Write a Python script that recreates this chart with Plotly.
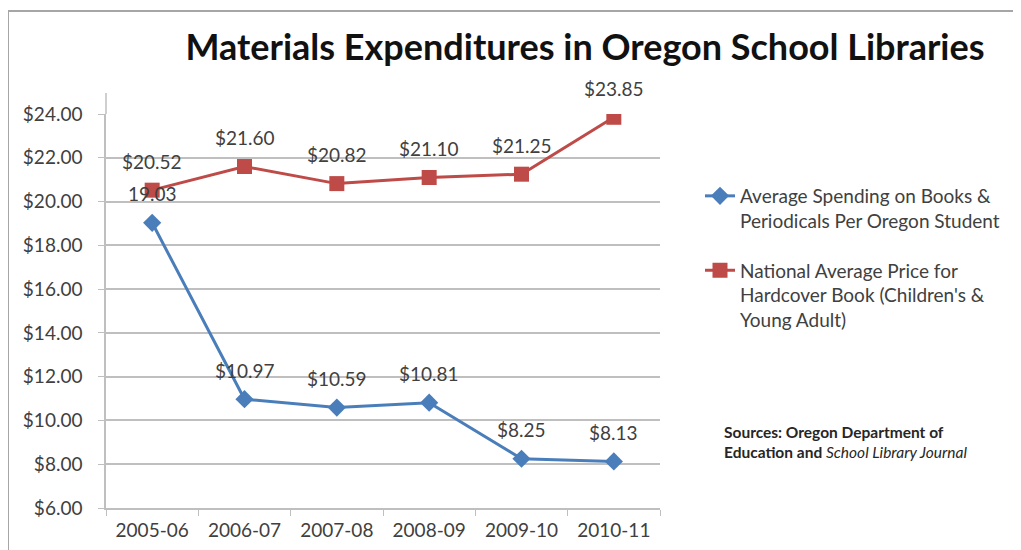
import plotly.graph_objects as go

categories = ["2005-06", "2006-07", "2007-08", "2008-09", "2009-10", "2010-11"]
spending = [19.03, 10.97, 10.59, 10.81, 8.25, 8.13]
spending_labels = ["19.03", "$10.97", "$10.59", "$10.81", "$8.25", "$8.13"]
price = [20.52, 21.60, 20.82, 21.10, 21.25, 23.85]
price_labels = ["$20.52", "$21.60", "$20.82", "$21.10", "$21.25", "$23.85"]

blue = "#4A7EBB"
red = "#BE4B48"
grid = "#BFBFBF"
txt = "#404040"
font = "Lato"
OFF = 8  # page body margin offset

fig = go.Figure()
fig.add_trace(go.Scatter(
    x=categories, y=spending, mode="lines+markers",
    name="Average Spending on Books &<br>Periodicals Per Oregon Student",
    line=dict(color=blue, width=3),
    marker=dict(symbol="diamond", size=14, color=blue),
    legendgroup="a",
))
fig.add_trace(go.Scatter(
    x=categories, y=price, mode="lines+markers",
    name="National Average Price for<br>Hardcover Book (Children's &<br>Young Adult)",
    line=dict(color=red, width=3),
    marker=dict(symbol="square", size=15, color=red),
    legendgroup="b",
))

for cats, vals, labs in [(categories, spending, spending_labels), (categories, price, price_labels)]:
    for c, v, l in zip(cats, vals, labs):
        fig.add_annotation(x=c, y=v, text=l, showarrow=False, yshift=29,
                           font=dict(family=font, size=19, color=txt))

fig.add_annotation(
    xref="paper", yref="paper", x=(722 - 106) / 554, y=(508 - 442) / 394,
    xanchor="left", yanchor="middle", align="left", showarrow=False,
    text="<b>Sources: Oregon Department of<br>Education and </b><i>School Library Journal</i>",
    font=dict(family=font, size=15.5, color="#262626"),
)

fig.add_shape(type="rect", xref="paper", yref="paper",
              x0=(8 - 106) / 554, x1=(1040 - 106) / 554,
              y0=(508 - 570) / 394, y1=(508 - 11) / 394,
              line=dict(color="#A6A6A6", width=2), layer="below")
fig.add_shape(type="line", xref="paper", yref="paper",
              x0=0, x1=0, y0=1, y1=(508 - 93) / 394,
              line=dict(color=grid, width=1.5))

fig.update_layout(
    width=1021, height=550,
    margin=dict(l=106 - OFF, r=1021 - (660 - OFF), t=114 - OFF, b=550 - (508 - OFF)),
    paper_bgcolor="white", plot_bgcolor="white",
    title=dict(text="<b>Materials Expenditures in Oregon School Libraries</b>",
               xref="container", x=(585 - OFF) / 1021, xanchor="center",
               yref="container", y=1 - (47 - OFF) / 550, yanchor="middle",
               font=dict(family=font, size=36, color="#111111")),
    legend=dict(x=(700 - 106) / 554, y=(508 - 177) / 394, xanchor="left", yanchor="top",
                font=dict(family=font, size=19, color=txt),
                tracegroupgap=22, valign="top", bgcolor="rgba(0,0,0,0)"),
    showlegend=True,
)
fig.update_xaxes(type="category", range=[-0.5, 5.5], tickson="boundaries", ticks="outside",
                 ticklen=6, tickcolor=grid, showline=True, linecolor=grid, linewidth=1.5,
                 showgrid=False, ticklabelstandoff=4,
                 tickfont=dict(family=font, size=19, color=txt))
fig.update_yaxes(range=[6, 24], dtick=2, tickprefix="$", tickformat=".2f",
                 ticks="outside", ticklen=6, tickcolor=grid, showline=True,
                 linecolor=grid, linewidth=1.5, gridcolor=grid, gridwidth=1.5,
                 zeroline=False, ticklabelstandoff=12,
                 tickfont=dict(family=font, size=19, color=txt))

fig.write_html("out.html")
